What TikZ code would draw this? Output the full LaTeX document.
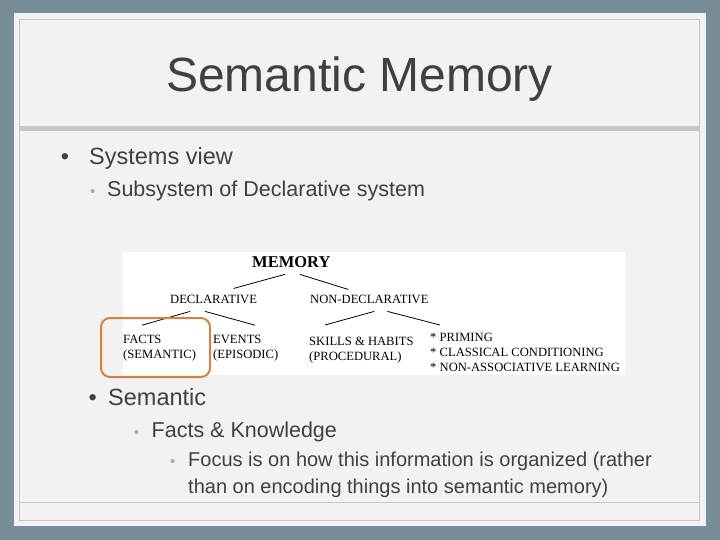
\documentclass[tikz,border=0pt]{standalone}
\usepackage{fontspec}
\setmainfont{Liberation Sans}
\newfontfamily\memfont{Liberation Serif}
\usetikzlibrary{calc}

\definecolor{slate}{RGB}{121,141,153}
\definecolor{panel}{RGB}{242,242,242}
\definecolor{frame}{RGB}{198,199,199}
\definecolor{ink}{RGB}{64,64,64}
\definecolor{subdotc}{RGB}{166,174,182}
\definecolor{hilite}{RGB}{212,130,62}

\begin{document}
\begin{tikzpicture}[
    x=1pt, y=-1pt,
    title/.style={
        anchor=base,
        inner sep=0,
        text=ink,
        font=\fontsize{48}{56}\selectfont
    },
    lvl1/.style={anchor=base west, inner sep=0, text=ink, font=\fontsize{23.5}{28}\selectfont},
    lvl2/.style={anchor=base west, inner sep=0, text=ink, font=\fontsize{21.5}{26}\selectfont},
    lvl3/.style={anchor=base west, inner sep=0, text=ink, align=left, font=\fontsize{20}{26.3}\selectfont},
    dot/.style={anchor=base, inner sep=0, text=ink, font=\fontsize{23.5}{28}\selectfont},
    subdot/.style={anchor=base, inner sep=0, text=subdotc, font=\fontsize{15}{18}\selectfont},
    memtxt/.style={
        inner sep=0,
        align=left,
        font=\memfont\fontsize{12.6}{15}\selectfont
    },
    link/.style={line width=0.8pt}
]

% slide background
\fill[slate] (0,0) rectangle (720,540);
\fill[panel] (13.5,13) rectangle (705.5,525.5);
\draw[frame, line width=1.5pt] (19.5,19.5) rectangle (699.5,520.5);
\fill[frame] (20,126) rectangle (699,131);
\draw[frame, line width=1pt] (20,502) -- (699,502);

\node[title] (ttl) at (359.5,92) {Semantic Memory};

\node[dot] (b1) at (65,165) {\textbullet};
\node[lvl1] (sys) at (89,165) {Systems view};
\node[subdot] (b2) at (92.7,196.7) {\textbullet};
\node[lvl2] (subsys) at (107,196.7) {Subsystem of Declarative system};

% memory diagram
\fill[white] (122.5,251.5) rectangle (624.5,375);

\node[memtxt, anchor=base west, font=\memfont\bfseries\fontsize{16.5}{18}\selectfont] (mem) at (252,267) {MEMORY};
\node[memtxt, anchor=base west] (decl) at (170,303) {DECLARATIVE};
\node[memtxt, anchor=base west] (ndecl) at (310,303) {NON-DECLARATIVE};
\node[memtxt, anchor=north west] (facts) at (123,334.7) {FACTS\\(SEMANTIC)};
\node[memtxt, anchor=north west] (events) at (213,334.7) {EVENTS\\(EPISODIC)};
\node[memtxt, anchor=north west] (skills) at (309,336.5) {SKILLS \& HABITS\\(PROCEDURAL)};
\node[memtxt, anchor=north west] (other) at (430,332.5) {* PRIMING\\* CLASSICAL CONDITIONING\\* NON-ASSOCIATIVE LEARNING};

\draw[link] ([shift={(-6.5,7)}]mem.south) -- ([shift={(20,-6)}]decl.north);
\draw[link] ([shift={(8.5,7)}]mem.south) -- ([shift={(-21,-5)}]ndecl.north);
\draw[link] ([shift={(-23.5,8)}]decl.south) -- ([shift={(19,-9.5)}]facts.north west);
\draw[link] ([shift={(-8.5,8)}]decl.south) -- ([shift={(42,-9.5)}]events.north west);
\draw[link] ([shift={(5,8)}]ndecl.south) -- ([shift={(16,-11.5)}]skills.north west);
\draw[link] ([shift={(18,8)}]ndecl.south) -- ([shift={(10,-7.5)}]other.north west);

\draw[hilite, line width=2pt, rounded corners=9pt] (101,318) rectangle (210,377);

\node[dot] (b3) at (92.7,405) {\textbullet};
\node[lvl1] (sem) at (108,405) {Semantic};
\node[subdot] (b4) at (136.5,437) {\textbullet};
\node[lvl2] (know) at (151.5,437) {Facts \& Knowledge};
\node[subdot] (b5) at (172.7,466.7) {\textbullet};
% two lines: base is on the last one
\node[lvl3] (focus) at (188,493) {Focus is on how this information is organized (rather\\than on encoding things into semantic memory)};

\end{tikzpicture}
\end{document}
